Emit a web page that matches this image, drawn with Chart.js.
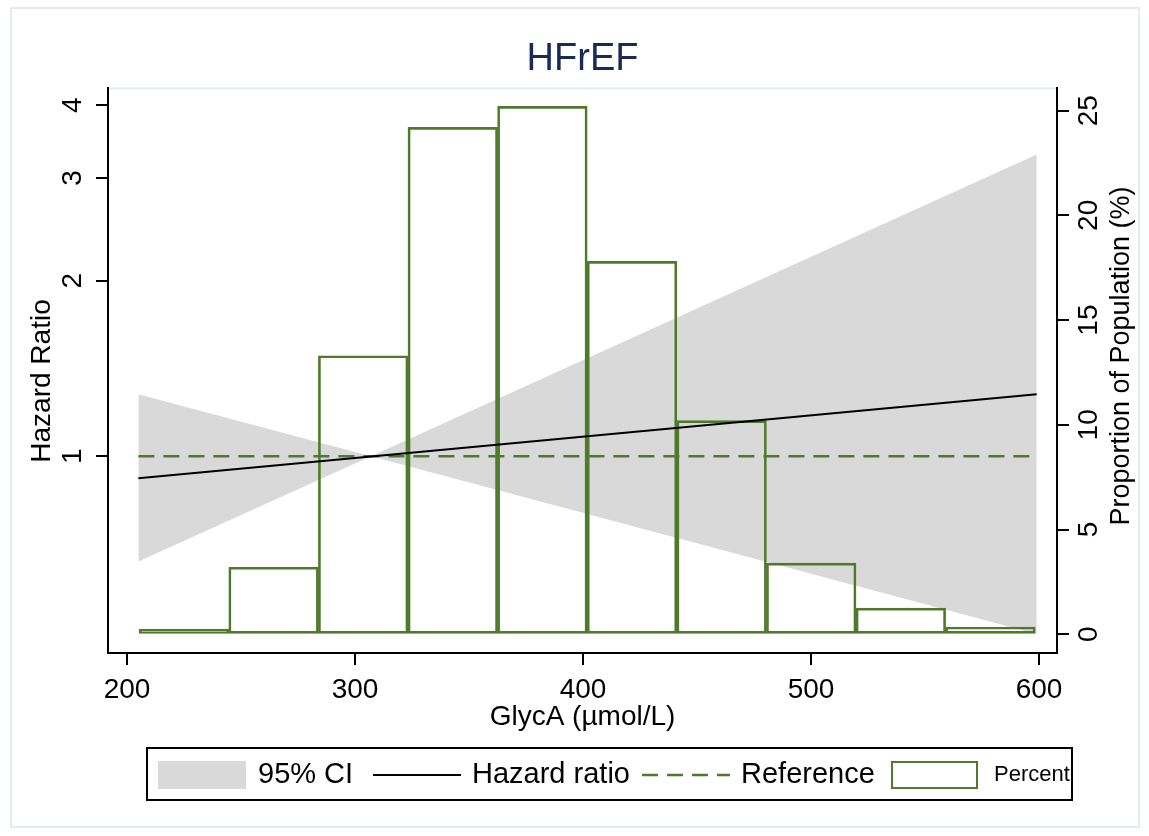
<!DOCTYPE html>
<html>
<head>
<meta charset="utf-8">
<title>HFrEF</title>
<script src="https://cdn.jsdelivr.net/npm/chart.js@4.4.1/dist/chart.umd.min.js"></script>
<style>
  html, body { margin: 0; padding: 0; background: #fff; }
  #wrap { width: 1149px; height: 836px; }
</style>
</head>
<body>
<div id="wrap"><canvas id="hfref" width="1149" height="836"></canvas></div>
<script>
/* ── values ─────────────────────────────────────────────────── */
const glycaTicks = [200, 300, 400, 500, 600];
const hrTicks = [1, 2, 3, 4];
const pctTicks = [0, 5, 10, 15, 20, 25];

// histogram: bin centres (µmol/L) and share of the population (%)
const binCentres = [225, 264.3, 303.6, 342.9, 382.2, 421.5, 460.8, 500.1, 539.4, 578.7];
const binPercent = [0.25, 3.2, 13.3, 24.2, 25.2, 17.8, 10.2, 3.4, 1.25, 0.35];

// 95% CI band (straight lines on the log axis, pinched at the reference)
const ciX = [205, 307, 599];
const ciUpper = [1.278, 1, 3.29];
const ciLower = [0.66, 1, 0.496];

// hazard ratio and reference line
const hrX = [205, 599];
const hrValues = [0.917, 1.278];
const refX = [205, 599];
const refValues = [1, 1];

/* ── look ───────────────────────────────────────────────────── */
const FONT = "'Liberation Sans', Arial, Helvetica, sans-serif";
const GREEN = "#4f7a2b";
const GREY_CI = "#d9d9d9";
const NAVY = "#1b2a55";
const FRAME = "#e4ecee";
const DASH = [16, 9];

Chart.defaults.font.family = FONT;
Chart.defaults.color = "#000";

const pts = (xs, ys) => xs.map((x, i) => ({ x, y: ys[i] }));
const fixTicks = list => scale => { scale.ticks = list.map(v => ({ value: v })); };

const axisGrid = { drawOnChartArea: false, drawTicks: true, tickLength: 12, lineWidth: 2, tickWidth: 2, tickColor: "#000", offset: false };
const axisBorder = { display: true, color: "#000", width: 2 };

function drawRotated(ctx, text, x, y) {
    ctx.save();
    ctx.translate(x, y);
    ctx.rotate(-Math.PI / 2);
    ctx.fillText(text, 0, 0);
    ctx.restore();
}

/* ── frame, y titles and the boxed legend ───────────────────── */
const decor = {
    id: "decor",
    beforeDraw(chart) {
        const { ctx, chartArea: a } = chart;
        ctx.save();
        ctx.fillStyle = "#fff";
        ctx.fillRect(0, 0, chart.width, chart.height);
        ctx.strokeStyle = FRAME;
        ctx.lineWidth = 2;
        ctx.strokeRect(11, 8, 1128, 819);
        ctx.beginPath();
        ctx.moveTo(a.left, a.top + 1);
        ctx.lineTo(a.right, a.top + 1);
        ctx.stroke();
        ctx.restore();
    },
    afterDraw(chart) {
        const { ctx } = chart;
        ctx.save();
        ctx.fillStyle = "#000";
        ctx.textAlign = "center";
        ctx.textBaseline = "middle";

        // both axis titles read bottom-to-top, as in the original
        ctx.font = `28px ${FONT}`;
        drawRotated(ctx, "Hazard Ratio", 42, 381);
        ctx.font = `27px ${FONT}`;
        drawRotated(ctx, "Proportion of Population (%)", 1122, 356);

        // legend box
        const midY = 775;
        ctx.strokeStyle = "#000";
        ctx.lineWidth = 2;
        ctx.strokeRect(147, 748, 925, 52);

        ctx.fillStyle = GREY_CI;
        ctx.fillRect(158, 761, 88, 28);

        ctx.beginPath();
        ctx.moveTo(373, midY);
        ctx.lineTo(461, midY);
        ctx.strokeStyle = "#000";
        ctx.stroke();

        ctx.beginPath();
        ctx.setLineDash(DASH);
        ctx.moveTo(642, midY);
        ctx.lineTo(730, midY);
        ctx.strokeStyle = GREEN;
        ctx.lineWidth = 2.5;
        ctx.stroke();
        ctx.setLineDash([]);

        ctx.lineWidth = 2;
        ctx.strokeRect(892, 762, 85, 26);

        ctx.fillStyle = "#000";
        ctx.textAlign = "left";
        ctx.font = `29px ${FONT}`;
        ctx.fillText("95% CI", 258, midY);
        ctx.fillText("Hazard ratio", 472, midY);
        ctx.fillText("Reference", 741, midY);
        ctx.font = `22px ${FONT}`;
        ctx.fillText("Percent", 994, midY);
        ctx.restore();
    }
};

new Chart(document.getElementById("hfref"), {
    type: "line",
    data: {
        datasets: [
            {
                label: "95% CI",
                data: pts(ciX, ciUpper),
                yAxisID: "y",
                borderColor: "rgba(0,0,0,0)",
                borderWidth: 0,
                pointRadius: 0,
                backgroundColor: GREY_CI,
                fill: "+1",
                order: 3,
            },
            {
                label: "95% CI lower",
                data: pts(ciX, ciLower),
                yAxisID: "y",
                borderColor: "rgba(0,0,0,0)",
                borderWidth: 0,
                pointRadius: 0,
                fill: false,
                order: 3,
            },
            {
                type: "bar",
                label: "Percent",
                data: pts(binCentres, binPercent),
                yAxisID: "y2",
                backgroundColor: "rgba(255,255,255,0)",
                borderColor: GREEN,
                borderWidth: 2,
                borderSkipped: false,
                barPercentage: 1,
                categoryPercentage: 1,
                order: 2,
            },
            {
                label: "Reference",
                data: pts(refX, refValues),
                yAxisID: "y",
                borderColor: GREEN,
                borderDash: DASH,
                borderWidth: 2.5,
                pointRadius: 0,
                fill: false,
                order: 1,
            },
            {
                label: "Hazard ratio",
                data: pts(hrX, hrValues),
                yAxisID: "y",
                borderColor: "#000",
                borderWidth: 2,
                pointRadius: 0,
                fill: false,
                order: 0,
            },
        ],
    },
    options: {
        responsive: false,
        animation: false,
        events: [],
        layout: { padding: { top: 0, left: 0, right: 0, bottom: 98 } },
        scales: {
            x: {
                type: "linear",
                position: "bottom",
                min: 191.67,
                max: 607.9,
                offset: false,
                afterBuildTicks: fixTicks(glycaTicks),
                afterFit: s => { s.height = 85; },
                grid: axisGrid,
                border: axisBorder,
                ticks: {
                    font: { size: 28 },
                    padding: 8,
                    minRotation: 0,
                    maxRotation: 0,
                    autoSkip: false,
                    callback: v => String(v),
                },
                title: {
                    display: true,
                    text: "GlycA (µmol/L)",
                    font: { size: 28 },
                    padding: { top: 0, bottom: 4 },
                },
            },
            y: {
                type: "logarithmic",
                position: "left",
                min: 0.46,
                max: 4.286,
                afterBuildTicks: fixTicks(hrTicks),
                afterFit: s => { s.width = 108; },
                grid: axisGrid,
                border: axisBorder,
                ticks: {
                    font: { size: 28 },
                    minRotation: 90,
                    maxRotation: 90,
                    crossAlign: "center",
                    padding: 15,
                    autoSkip: false,
                    callback: v => String(v),
                },
            },
            y2: {
                type: "linear",
                position: "right",
                min: -0.893,
                max: 26.1,
                afterBuildTicks: fixTicks(pctTicks),
                afterFit: s => { s.width = 92; },
                grid: axisGrid,
                border: axisBorder,
                ticks: {
                    font: { size: 28 },
                    minRotation: 90,
                    maxRotation: 90,
                    crossAlign: "center",
                    padding: 5,
                    autoSkip: false,
                    callback: v => String(v),
                },
            },
        },
        plugins: {
            legend: { display: false },
            tooltip: { enabled: false },
            title: {
                display: true,
                text: "HFrEF",
                color: NAVY,
                fullSize: false,
                font: { size: 38, weight: "normal" },
                padding: { top: 37, bottom: 5 },
            },
        },
    },
    plugins: [decor],
});
</script>
</body>
</html>
